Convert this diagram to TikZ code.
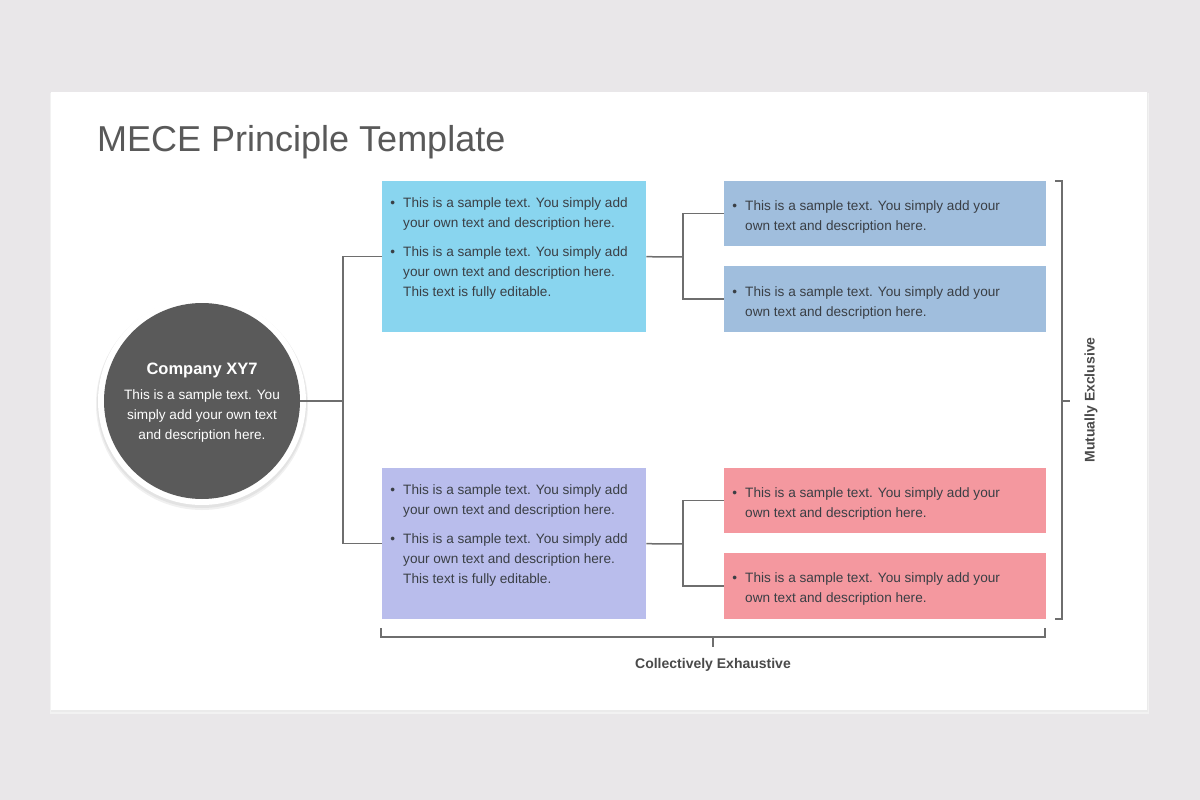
\documentclass[tikz,border=0pt]{standalone}
\usepackage{fontspec}
\setmainfont{Liberation Sans}
\usetikzlibrary{calc}
\definecolor{bgcol}{HTML}{E9E7E9}
\definecolor{titlecol}{HTML}{595959}
\definecolor{circcol}{HTML}{5A5A5A}
\definecolor{cyanbox}{HTML}{89D5EF}
\definecolor{purpbox}{HTML}{B9BDEC}
\definecolor{bluebox}{HTML}{A0BEDD}
\definecolor{pinkbox}{HTML}{F4989F}
\definecolor{txtcol}{HTML}{3A3F45}
\definecolor{linecol}{HTML}{6E6E6E}
\definecolor{labcol}{HTML}{4A4A4A}
\tikzset{
  box/.style={draw=none, minimum width=#1, inner sep=0pt, anchor=north west},
  conn/.style={draw=linecol, line width=1.5pt},
  btxt/.style={anchor=north west, align=left, inner sep=0pt, text=txtcol,
    font=\fontsize{13.6}{20}\selectfont},
  lab/.style={text=labcol, font=\fontsize{14}{16}\selectfont\bfseries, inner sep=0pt}
}
\newcommand{\bu}{\llap{\textbullet\hspace{8pt}}}
\begin{document}
\begin{tikzpicture}[x=1pt,y=-1pt]
\useasboundingbox (0,0) rectangle (1200,800);
\fill[bgcol] (0,0) rectangle (1200,800);
% card with shadow
\fill[black!5] (50,93) rectangle (1149,714);
\fill[black!8] (51,93) rectangle (1148,712);
\fill[white] (51,92) rectangle (1147,710);
% title
\node[anchor=west, text=titlecol, inner sep=0pt, font=\fontsize{36}{40}\selectfont] (title) at (97,142) {MECE Principle Template};
% circle
\fill[black!6] (202,404) circle (106);
\fill[black!11] (202,403) circle (105);
\fill[white] (202,401) circle (104);
\node[circle, fill=circcol, minimum size=196pt, inner sep=0pt] (hub) at (202,401) {};
\node[text=white, font=\fontsize{16.5}{20}\selectfont\bfseries, inner sep=0pt] (hubt) at (202,370) {Company XY7};
\node[text=white, align=center, font=\fontsize{13.6}{20}\selectfont, inner sep=0pt, anchor=north] (hubd) at (202,389) {This is a sample text. You\\simply add your own text\\and description here.};
% boxes
\node[box=264pt, minimum height=151pt, fill=cyanbox] (b1) at (382,181) {};
\node[box=264pt, minimum height=151pt, fill=purpbox] (b2) at (382,468) {};
\node[box=322pt, minimum height=65pt, fill=bluebox] (r1) at (724,181) {};
\node[box=322pt, minimum height=66pt, fill=bluebox] (r2) at (724,266) {};
\node[box=322pt, minimum height=65pt, fill=pinkbox] (r3) at (724,468) {};
\node[box=322pt, minimum height=66pt, fill=pinkbox] (r4) at (724,553) {};
% box texts
\node[btxt] (t1a) at (403,197) {\bu This is a sample text. You simply add\\your own text and description here.};
\node[btxt] (t1b) at (403,246) {\bu This is a sample text. You simply add\\your own text and description here.\\This text is fully editable.};
\node[btxt] (t2a) at (403,484) {\bu This is a sample text. You simply add\\your own text and description here.};
\node[btxt] (t2b) at (403,533) {\bu This is a sample text. You simply add\\your own text and description here.\\This text is fully editable.};
\node[btxt] (tr1) at (745,200) {\bu This is a sample text. You simply add your\\own text and description here.};
\node[btxt] (tr2) at (745,286) {\bu This is a sample text. You simply add your\\own text and description here.};
\node[btxt] (tr3) at (745,487) {\bu This is a sample text. You simply add your\\own text and description here.};
\node[btxt] (tr4) at (745,572) {\bu This is a sample text. You simply add your\\own text and description here.};
% connectors
\coordinate (j0) at (343,401);
\coordinate (j1) at (683,257);
\coordinate (j2) at (683,544);
\draw[conn] (hub.east) -- (j0);
\draw[conn] (j0) |- (b1.west);
\draw[conn] (j0) |- (b2.west);
\draw[conn] (b1.east) -- (j1);
\draw[conn] (j1) |- (r1.west);
\draw[conn] (j1) |- (r2.west);
\draw[conn] (b2.east) -- (j2);
\draw[conn] (j2) |- (r3.west);
\draw[conn] (j2) |- (r4.west);
% right bracket
\draw[conn] (1055,181) -- (1062,181) -- (1062,619) -- (1055,619);
\coordinate (me) at (1070,401);
\draw[conn] (1062,401) -- (me);
\node[lab, rotate=90] (mel) at (1091,400) {Mutually Exclusive};
% bottom bracket
\draw[conn] (381,628) -- (381,637) -- (1045,637) -- (1045,628);
\coordinate (ce) at (713,647);
\draw[conn] (713,637) -- (ce);
\node[lab] (cel) at (713,665) {Collectively Exhaustive};
\end{tikzpicture}
\end{document}
